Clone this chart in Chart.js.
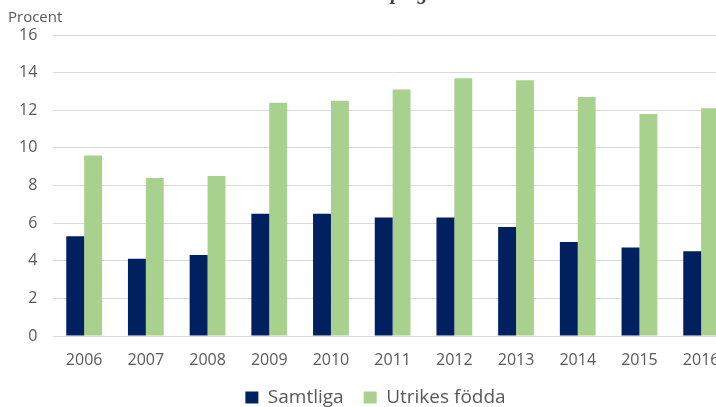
<!DOCTYPE html>
<html>
<head>
<meta charset="utf-8">
<script src="https://cdn.jsdelivr.net/npm/chart.js@4"></script>
<style>
  html, body { margin: 0; padding: 0; background: #fff; overflow: hidden; }
  #wrap { width: 732px; height: 407px; position: relative; }
</style>
</head>
<body>
<div id="wrap"><canvas id="my-chart"></canvas></div>
<script>
var years = ['2006', '2007', '2008', '2009', '2010', '2011', '2012', '2013', '2014', '2015', '2016'];
var samtliga = [5.3, 4.1, 4.3, 6.5, 6.5, 6.3, 6.3, 5.8, 5.0, 4.7, 4.5];
var utrikes = [9.6, 8.4, 8.5, 12.4, 12.5, 13.1, 13.7, 13.6, 12.7, 11.8, 12.1];
var yTicks = [0, 2, 4, 6, 8, 10, 12, 14, 16];

var fontName = "'Open Sans', 'Noto Sans', sans-serif";

// title is cut off at the top of the picture, plus the y axis caption
var extraText = {
  id: 'extraText',
  afterDraw: function(chart) {
    var ctx = chart.ctx;
    ctx.save();
    ctx.fillStyle = '#595959';
    ctx.font = "15px " + fontName;
    ctx.textAlign = 'left';
    ctx.textBaseline = 'alphabetic';
    ctx.fillText('Procent', 8, 22);
    ctx.fillStyle = '#404040';
    ctx.font = "italic bold 20px 'Liberation Serif', serif";
    ctx.textAlign = 'center';
    ctx.fillText('Arbetslöshet i Norrköping 2006–2016', 368, -1);
    ctx.restore();
  }
};

var create = function() {
  var ctx = document.getElementById('my-chart');
  new Chart(ctx, {
    type: 'bar',
    data: {
      labels: years,
      datasets: [
        { label: 'Samtliga', data: samtliga, backgroundColor: '#002060' },
        { label: 'Utrikes födda', data: utrikes, backgroundColor: '#A9D18E' }
      ]
    },
    options: {
      responsive: true,
      maintainAspectRatio: false,
      animation: false,
      layout: { padding: { top: 35, left: 19, right: 0, bottom: -10 } },
      datasets: { bar: { barPercentage: 1, categoryPercentage: 0.58 } },
      scales: {
        x: {
          grid: { display: false },
          border: { color: '#D9D9D9' },
          ticks: { color: '#595959', font: { family: fontName, size: 16 }, padding: 7, maxRotation: 0 },
          afterFit: function(axis) { axis.height = 32; }
        },
        y: {
          min: 0,
          max: 16,
          afterBuildTicks: function(axis) {
            axis.ticks = yTicks.map(function(v) { return { value: v }; });
          },
          afterFit: function(axis) { axis.width = 34.3; },
          grid: { color: '#D9D9D9', drawTicks: false },
          border: { display: false },
          ticks: { color: '#595959', font: { family: fontName, size: 16 }, padding: 16 }
        }
      },
      plugins: {
        legend: {
          position: 'bottom',
          labels: {
            boxWidth: 13,
            boxHeight: 12,
            padding: 20,
            color: '#595959',
            font: { family: fontName, size: 19 }
          }
        },
        tooltip: { enabled: false }
      }
    },
    plugins: [extraText]
  });
};

create();
</script>
</body>
</html>
